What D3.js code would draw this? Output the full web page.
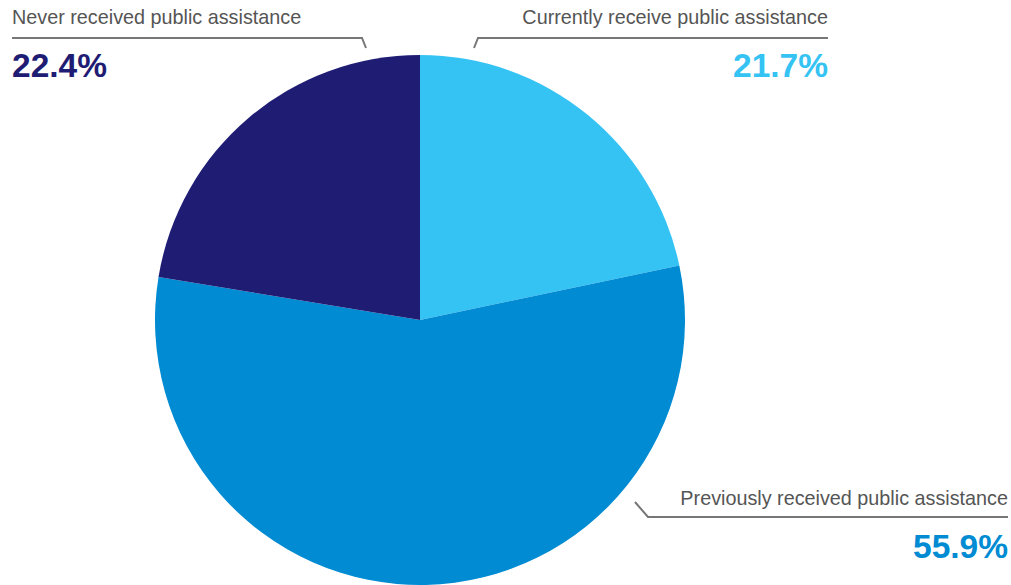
<!DOCTYPE html>
<html>
<head>
<meta charset="utf-8">
<script src="https://cdn.jsdelivr.net/npm/d3@7"></script>
<style>
  body { margin: 0; background: #fff; }
  svg { display: block; font-family: "Liberation Sans", Arial, Helvetica, sans-serif; }
</style>
</head>
<body>
<svg width="1011" height="585"></svg>
<script>
// data
const categories = ["Currently receive public assistance", "Previously received public assistance", "Never received public assistance"];
const values = [21.7, 55.9, 22.4];
const colors = ["#35c3f4", "#008bd2", "#1f1c74"];

const width = 1011, height = 585;
const cx = 420, cy = 320, radius = 265;

const svg = d3.select("svg");
const chart = svg.append("g").attr("transform", `translate(${cx}, ${cy})`);

// pie, clockwise from 12 o'clock
const pie = d3.pie().sort(null).value(d => d.value);
const arc = d3.arc().innerRadius(0).outerRadius(radius);
const data = categories.map((c, i) => ({ name: c, value: values[i], color: colors[i] }));

chart.selectAll("path.slice")
  .data(pie(data))
  .enter()
  .append("path")
  .attr("class", "slice")
  .attr("d", arc)
  .attr("fill", d => d.data.color);

// label layout: leader line [tip, elbow, end], text anchor
const labels = [
  { tip: [474, 48], elbow: [478, 38], end: [828, 38], x: 828, anchor: "end", y: 24 },
  { tip: [635, 502], elbow: [648, 517], end: [1008, 517], x: 1008, anchor: "end", y: 505 },
  { tip: [366, 48], elbow: [362, 38], end: [12, 38], x: 12, anchor: "start", y: 24 }
];

const ann = svg.append("g");
labels.forEach((l, i) => {
  ann.append("path")
    .attr("d", d3.line()([l.tip, l.elbow, l.end]))
    .attr("fill", "none")
    .attr("stroke", "#777")
    .attr("stroke-width", 2);
  ann.append("text")
    .attr("x", l.x)
    .attr("y", l.y)
    .attr("text-anchor", l.anchor)
    .attr("font-size", "19.8px")
    .attr("fill", "#555")
    .text(categories[i]);
  ann.append("text")
    .attr("x", l.x)
    .attr("y", l.y + 53)
    .attr("text-anchor", l.anchor)
    .attr("font-size", "33.5px")
    .attr("font-weight", "bold")
    .attr("fill", colors[i])
    .text(values[i].toFixed(1) + "%");
});
</script>
</body>
</html>
